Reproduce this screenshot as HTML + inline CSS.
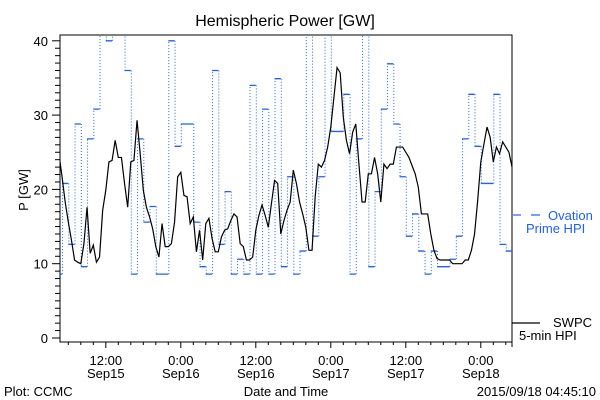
<!DOCTYPE html>
<html><head><meta charset="utf-8">
<style>
html,body{margin:0;padding:0;background:#fff;}
svg{display:block;font-family:"Liberation Sans",sans-serif;}
</style></head>
<body>
<svg id="chart" width="600" height="400" viewBox="0 0 600 400" xmlns="http://www.w3.org/2000/svg">
<defs><clipPath id="plotclip"><rect x="60" y="35" width="452" height="307"/></clipPath></defs>
<rect x="0" y="0" width="600" height="400" fill="#fff"/>
<text x="285" y="26" font-size="16" text-anchor="middle" fill="#000">Hemispheric Power [GW]</text>
<text x="0" y="0" font-size="13" text-anchor="middle" fill="#000" transform="translate(28,190) rotate(-90)">P [GW]</text>
<rect x="60" y="35" width="452" height="307" fill="none" stroke="#000" stroke-width="1"/>
<line x1="512" y1="342" x2="512" y2="347" stroke="#000"/>
<g id="yticks"></g>
<g id="xticks"></g>
<g id="series" clip-path="url(#plotclip)"></g>
<text x="286" y="396" font-size="13" text-anchor="middle" fill="#000">Date and Time</text>
<text x="4" y="396" font-size="13" fill="#000">Plot: CCMC</text>
<text x="596" y="396" font-size="13" text-anchor="end" fill="#000">2015/09/18 04:45:10</text>
<g>
<line x1="513" y1="215" x2="521" y2="215" stroke="#1f5fff" stroke-width="1.2"/>
<line x1="531" y1="215" x2="540" y2="215" stroke="#1f5fff" stroke-width="1.2"/>
<text x="548" y="220" font-size="13" fill="#1f5fff">Ovation</text>
<text x="526" y="233" font-size="13" fill="#1f5fff">Prime HPI</text>
</g>
<g>
<line x1="512" y1="323" x2="540" y2="323" stroke="#000" stroke-width="1.2"/>
<text x="553" y="327" font-size="13" fill="#000">SWPC</text>
<text x="519" y="340" font-size="13" fill="#000">5-min HPI</text>
</g>
</svg>
<script>
// Ovation Prime HPI hourly values (GW), hour i starts at 04:00 Sep15 + i hours
const ovationValues = [8.6,20.8,12.6,28.8,9.6,26.8,30.8,45,40,45,45,36,8.6,26.8,15.6,17.7,8.6,8.6,40,25.8,28.8,28.8,15.6,9.6,8.6,36,12.6,19.7,8.6,10.6,8.6,34,8.6,30.8,8.6,34.9,9.6,21.7,8.6,11.7,45,13.7,21.7,45,27.8,27.8,32.8,8.6,26.8,45,9.6,19.7,30.8,36.9,28.8,21.7,13.7,16.7,11.7,8.6,11.7,9.6,9.6,10.6,13.7,26.8,32.8,25.8,20.8,20.8,32.8,12.6,11.7];
// SWPC 5-min HPI sampled every 0.5 h starting at t=0.5 h after 04:00 Sep15
const hpiStart = 0.5;
const hpiStep = 0.5;
const hpiValues = [24.8,21.7,18.3,15.6,13.2,10.5,10.2,10.0,12.7,17.6,11.4,12.5,10.2,10.9,17.2,19.9,23.7,23.9,26.6,24.3,24.3,20.8,17.6,23.7,23.9,29.3,24.8,19.9,17.6,16.3,14.7,12.3,10.9,15.4,12.3,12.3,12.7,15.6,21.7,22.3,19.2,19.0,15.4,16.3,11.6,14.5,10.5,15.4,16.1,13.4,11.6,11.6,13.6,14.5,14.7,15.8,16.7,16.3,12.7,12.3,10.5,10.5,10.9,14.5,16.5,17.9,16.5,14.9,18.1,21.2,20.8,14.0,15.8,17.2,18.3,22.6,
20.8,18.3,16.7,14.9,11.8,11.8,19.0,23.4,23.0,23.9,25.7,28.4,32.4,36.4,35.7,29.7,26.6,24.8,27.7,28.8,23.4,18.3,18.3,22.1,22.1,24.3,22.1,18.3,23.4,22.8,23.4,23.4,25.7,25.7,25.7,25.0,24.3,23.2,22.1,20.3,16.7,16.7,16.7,14.0,11.8,10.7,10.5,10.5,10.5,10.5,10.0,10.0,10.0,10.0,10.5,10.5,11.8,14.0,18.5,23.7,26.1,28.4,27.0,23.7,25.7,24.8,26.4,25.7,25.0,23.0];
const yTickLabels = ["0","10","20","30","40"];
const yTickValues = [0,10,20,30,40];
const xTickHours = [8,20,32,44,56,68];
const xTickTimes = ["12:00","0:00","12:00","0:00","12:00","0:00"];
const xTickDays = ["Sep15","Sep16","Sep16","Sep17","Sep17","Sep18"];

const NS = "http://www.w3.org/2000/svg";
function xScale(t){ return 55.8 + 6.25*t; }
function yScale(v){ return 338 - 7.43*v; }
function mk(tag, attrs, parent){
  const e = document.createElementNS(NS, tag);
  for (const k in attrs) e.setAttribute(k, attrs[k]);
  parent.appendChild(e);
  return e;
}
const yt = document.getElementById('yticks');
for (let v = 0; v <= 40; v++) {
  const y = yScale(v);
  const major = v % 10 === 0;
  const l = mk('line', {x1: major ? 52 : 55, x2: 60, y1: y, y2: y, stroke: '#000'}, yt);
  
  
}
yTickValues.forEach((v, i) => {
  const t = mk('text', {x: 48, y: yScale(v) + 5, 'font-size': 13, 'text-anchor': 'end', fill: '#000'}, yt);
  t.textContent = yTickLabels[i];
  
  
});
const xt = document.getElementById('xticks');
for (let h = 2; h <= 72; h += 2) {
  const x = xScale(h);
  if (x < 60 || x > 512) continue;
  const major = (h - 8) % 12 === 0;
  const l = mk('line', {x1: x, x2: x, y1: 342, y2: major ? 348 : 345, stroke: '#000'}, xt);
  
  
}
xTickHours.forEach((h, i) => {
  const x = xScale(h);
  const a = mk('text', {x: x, y: 365, 'font-size': 13, 'text-anchor': 'middle', fill: '#000'}, xt);
  a.textContent = xTickTimes[i];
  
  
  const b = mk('text', {x: x, y: 378, 'font-size': 13, 'text-anchor': 'middle', fill: '#000'}, xt);
  b.textContent = xTickDays[i];
  
  
});
const sg = document.getElementById('series');
let hd = '', vd = '';
ovationValues.forEach((v, i) => {
  const x0 = xScale(i), x1 = xScale(i + 1), y = yScale(v);
  hd += 'M' + x0 + ' ' + y + 'H' + x1;
  if (i + 1 < ovationValues.length) {
    vd += 'M' + (x1 + 0.5) + ' ' + y + 'V' + yScale(ovationValues[i + 1]);
  }
});
const ov = mk('path', {d: vd, stroke: '#1f5fff', 'stroke-width': 1, 'stroke-dasharray': '1 2', fill: 'none'}, sg);


const oh = mk('path', {d: hd, stroke: '#1f5fff', 'stroke-width': 1.3, fill: 'none'}, sg);


let pd = '';
hpiValues.forEach((v, i) => {
  const x = xScale(hpiStart + i * hpiStep), y = yScale(v);
  if (i === 0) pd += 'M' + xScale(0.4) + ' ' + y + 'L' + x + ' ' + y;
  else pd += 'L' + x + ' ' + y;
});
const hp = mk('path', {d: pd, stroke: '#000', 'stroke-width': 1.2, fill: 'none'}, sg);


</script>
</body></html>
